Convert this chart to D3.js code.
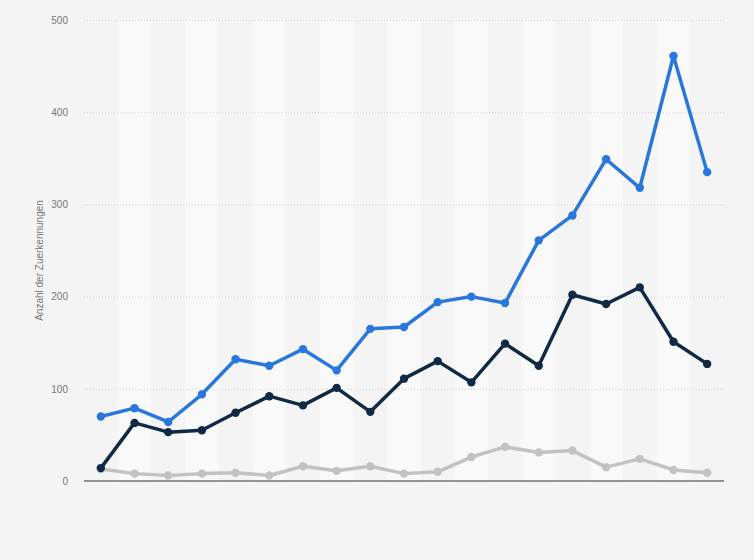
<!DOCTYPE html>
<html>
<head>
<meta charset="utf-8">
<script src="https://d3js.org/d3.v7.min.js"></script>
<style>
  html, body { margin: 0; padding: 0; background: #f4f4f4; }
  svg { display: block; font-family: "Liberation Sans", Arial, sans-serif; }
  .grid line { stroke: #cfcfcf; stroke-dasharray: 1,2; }
  .tick text { fill: #777; font-size: 10px; }
</style>
</head>
<body>
<script>
// one point per year, 19 years, no x labels shown in the source
const categories = d3.range(19).map((i) => "p" + i);
const seriesBlue = [70, 79, 64, 94, 132, 125, 143, 120, 165, 167, 194, 200, 193, 261, 288, 349, 318, 461, 335];
const seriesDark = [14, 63, 53, 55, 74, 92, 82, 101, 75, 111, 130, 107, 149, 125, 202, 192, 210, 151, 127];
const seriesGray = [13, 8, 6, 8, 9, 6, 16, 11, 16, 8, 10, 26, 37, 31, 33, 15, 24, 12, 9];
const yTicks = [0, 100, 200, 300, 400, 500];

const W = 754, H = 560;
const M = { left: 84, right: 30, top: 20, bottom: 79 };

const svg = d3.select("body").append("svg").attr("width", W).attr("height", H);

const x = d3.scaleBand().domain(categories).range([M.left, W - M.right]);
const y = d3.scaleLinear().domain([0, 500]).range([H - M.bottom, M.top]);

// alternating column stripes
svg.append("g").selectAll("rect")
  .data(categories.filter((c, i) => i % 2 === 1)).join("rect")
  .attr("x", (d) => x(d)).attr("y", M.top)
  .attr("width", x.bandwidth()).attr("height", y(0) - M.top)
  .attr("fill", "#f9f9f9");

// y axis with dotted grid
const yAxis = svg.append("g").attr("class", "grid")
  .attr("transform", `translate(${M.left},0)`)
  .call(d3.axisLeft(y).tickValues(yTicks).tickSize(-(W - M.left - M.right)).tickPadding(16));
yAxis.select(".domain").remove();
yAxis.selectAll(".tick").filter((d) => d === 0).select("line").remove();

svg.append("line")
  .attr("x1", M.left).attr("x2", W - M.right)
  .attr("y1", y(0)).attr("y2", y(0))
  .attr("stroke", "#333").attr("stroke-width", 1);

svg.append("text")
  .attr("transform", `translate(43,${(M.top + y(0)) / 2 + 10}) rotate(-90)`)
  .attr("text-anchor", "middle")
  .attr("fill", "#777").attr("font-size", 10)
  .text("Anzahl der Zuerkennungen");

const cx = (i) => x(categories[i]) + x.bandwidth() / 2;
const line = d3.line().x((d, i) => cx(i)).y((d) => y(d));

const series = [
  { values: seriesGray, color: "#c2c2c2" },
  { values: seriesDark, color: "#0f2a44" },
  { values: seriesBlue, color: "#2a77dc" }
];

series.forEach((s) => {
  const g = svg.append("g");
  g.append("path").datum(s.values)
    .attr("d", line).attr("fill", "none")
    .attr("stroke", s.color).attr("stroke-width", 3.5)
    .attr("stroke-linejoin", "round");
  g.selectAll("circle").data(s.values).join("circle")
    .attr("cx", (d, i) => cx(i)).attr("cy", (d) => y(d))
    .attr("r", 4.2).attr("fill", s.color);
});
</script>
</body>
</html>
